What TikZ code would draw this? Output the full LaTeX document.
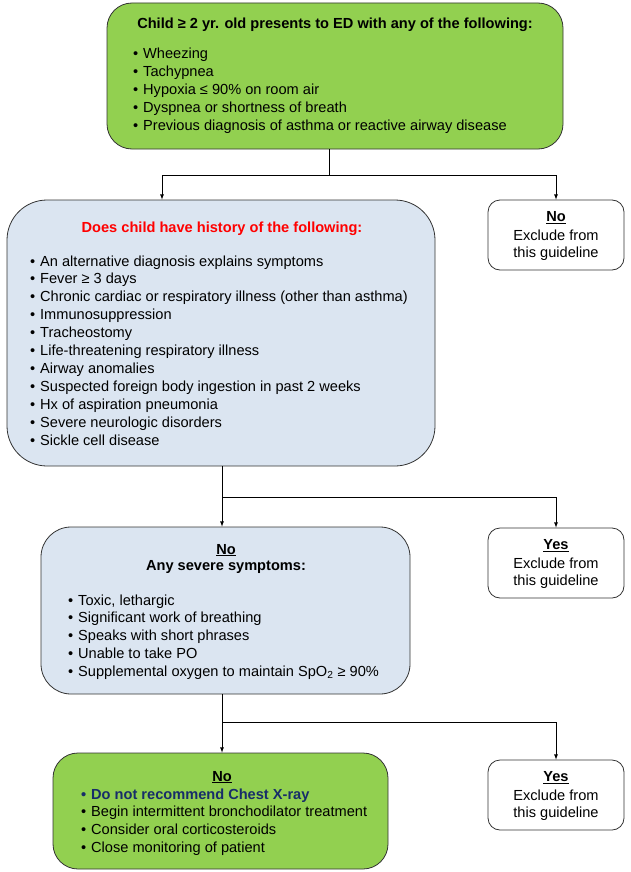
\documentclass[tikz,border=0pt]{standalone}
\usepackage{fontspec}
\setmainfont{Liberation Sans}
\definecolor{boxgreen}{RGB}{146,208,80}
\definecolor{boxblue}{RGB}{219,229,241}
\definecolor{navy}{RGB}{23,45,105}

\begin{document}
\begin{tikzpicture}[x=1pt,y=-1pt,
    box/.style={draw=black!80, line width=0.8pt, inner sep=0pt},
    arrow/.style={-latex, line width=0.8pt},
    line/.style={inner sep=0pt, anchor=base, font=\fontsize{14.6}{16}\selectfont},
    item/.style={line, anchor=base west},
    head/.style={line, font=\fontsize{14.6}{16}\selectfont\bfseries}]
  \useasboundingbox (0,0) rectangle (631,872);

  \node[box, fill=boxgreen, rounded corners=25pt, minimum width=456pt, minimum height=146pt] (start) at (335,76) {};
  \node[box, fill=boxblue, rounded corners=40pt, minimum width=428pt, minimum height=266pt] (hist) at (221,333) {};
  \node[box, fill=boxblue, rounded corners=30pt, minimum width=369pt, minimum height=167pt] (severe) at (225.5,610.5) {};
  \node[box, fill=boxgreen, rounded corners=25pt, minimum width=335pt, minimum height=116pt] (treat) at (220.5,811) {};
  \node[box, fill=white, rounded corners=12pt, minimum width=136pt, minimum height=70pt] (excl1) at (556,235) {};
  \node[box, fill=white, rounded corners=12pt, minimum width=136pt, minimum height=70pt] (excl2) at (556,563) {};
  \node[box, fill=white, rounded corners=12pt, minimum width=136pt, minimum height=70pt] (excl3) at (556,795) {};

  \node[head] (starttitle) at (335,29) {Child ≥ 2 yr. old presents to ED with any of the following:};
  \foreach \t [count=\i] in {Wheezing, Tachypnea, Hypoxia ≤ 90\% on room air,
      Dyspnea or shortness of breath, Previous diagnosis of asthma or reactive airway disease}
    \node[item] (startitem\i) at (133,41.1+17.9*\i) {\makebox[10pt][l]{\textbullet}\t};

  \node[head, text=red] (histtitle) at (222,232) {Does child have history of the following:};
  \foreach \t [count=\i] in {An alternative diagnosis explains symptoms, Fever ≥ 3 days,
      Chronic cardiac or respiratory illness (other than asthma), Immunosuppression,
      Tracheostomy, Life-threatening respiratory illness, Airway anomalies,
      Suspected foreign body ingestion in past 2 weeks, Hx of aspiration pneumonia,
      Severe neurologic disorders, Sickle cell disease}
    \node[item] (histitem\i) at (30,248.1+17.9*\i) {\makebox[10pt][l]{\textbullet}\t};

  \node[head] (severeno) at (226,554) {\underline{No}};
  \node[head] (severetitle) at (226,570) {Any severe symptoms:};
  \foreach \t [count=\i] in {{Toxic, lethargic}, Significant work of breathing,
      Speaks with short phrases, Unable to take PO,
      Supplemental oxygen to maintain SpO\textsubscript{2} ≥ 90\%}
    \node[item] (severeitem\i) at (68,587.1+17.9*\i) {\makebox[10pt][l]{\textbullet}\t};

  \node[head] (treatno) at (222,781) {\underline{No}};
  \node[item, font=\fontsize{14.6}{16}\selectfont\bfseries, text=navy] (treatitem1) at (81,799) {\makebox[10pt][l]{\textbullet}Do not recommend Chest X-ray};
  \foreach \t [count=\i from 2] in {Begin intermittent bronchodilator treatment,
      Consider oral corticosteroids, Close monitoring of patient}
    \node[item] (treatitem\i) at (81,781.1+17.9*\i) {\makebox[10pt][l]{\textbullet}\t};

  \foreach \b/\w in {excl1/No, excl2/Yes, excl3/Yes} {
    \node[head] (\b head) at ([yshift=-22pt]\b.north) {\underline{\w}};
    \node[line] (\b text) at ([yshift=-41pt]\b.north) {Exclude from};
    \node[line] (\b more) at ([yshift=-58pt]\b.north) {this guideline};
  }

  \coordinate (j1) at (329,175);
  \coordinate (j2) at (222,497);
  \coordinate (j3) at (222,722);
  \draw[line width=0.8pt] (j1 |- start.south) -- (j1);
  \draw[arrow] (j1) -| ([xshift=-59pt]hist.north);
  \draw[arrow] (j1) -| (excl1.north);
  \draw[line width=0.8pt] (j2 |- hist.south) -- (j2);
  \draw[arrow] (j2) -- (j2 |- severe.north);
  \draw[arrow] (j2) -| (excl2.north);
  \draw[line width=0.8pt] (j3 |- severe.south) -- (j3);
  \draw[arrow] (j3) -- (j3 |- treat.north);
  \draw[arrow] (j3) -| (excl3.north);
\end{tikzpicture}
\end{document}
